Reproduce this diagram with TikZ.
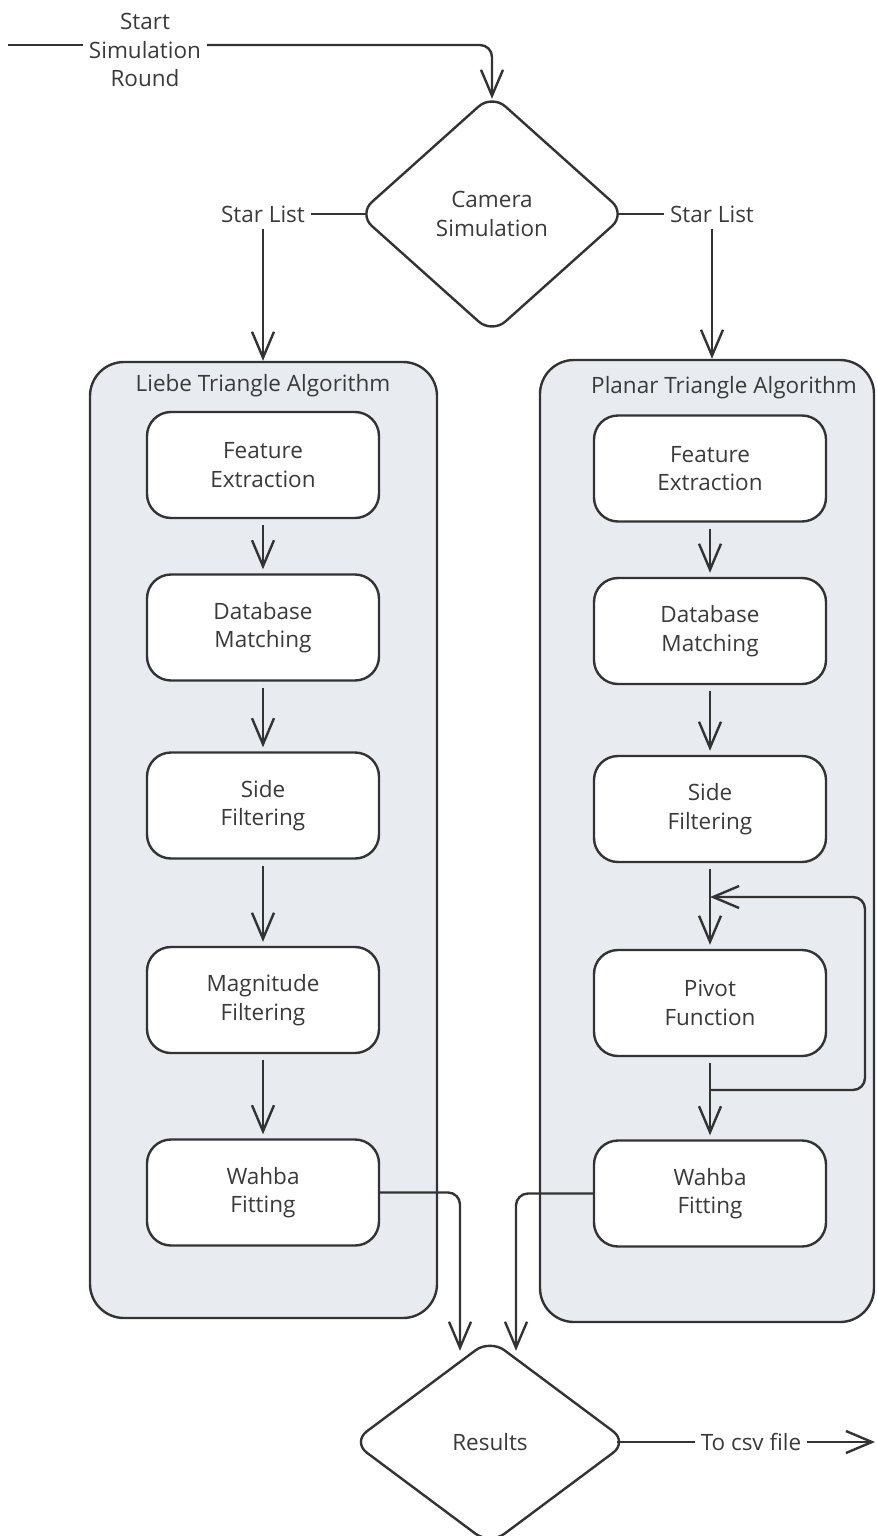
\documentclass[tikz,border=0pt]{standalone}
\usepackage{fontspec}
\setmainfont{Open Sans}
\usetikzlibrary{shapes.geometric}
\usetikzlibrary{arrows.meta}
\definecolor{inkgray}{HTML}{333333}
\definecolor{txtgray}{HTML}{3A3A3A}
\definecolor{panelgray}{HTML}{E8EBEF}

\begin{document}
\begin{tikzpicture}[x=1pt,y=-1pt,color=inkgray,line width=2.4pt,
  font=\fontsize{22.5}{28.5}\selectfont,
  procbox/.style={draw, fill=white, rounded corners=24pt, minimum width=232pt, minimum height=106pt, align=center, text=txtgray},
  decision/.style={diamond, draw, fill=white, rounded corners=18pt, align=center, inner sep=0pt, text=txtgray},
  panel/.style={draw, fill=panelgray, rounded corners=34pt},
  plain/.style={align=center, inner sep=5pt, text=txtgray},
  flow/.style={-{Straight Barb[length=26pt,width=22pt]}}]

\useasboundingbox (0,0) rectangle (876,1536);

\coordinate (in) at (8,45);
\node[plain] (start) at (145,50) {Start\\Simulation\\Round};
\node[decision, minimum width=268pt, minimum height=240pt] (cam) at (492,214) {Camera\\Simulation};
\node[plain] (starL) at (263,214) {Star List};
\node[plain] (starR) at (712,214) {Star List};

\node[panel, minimum width=347pt, minimum height=956pt] (liebe) at (263.5,840) {};
\node[panel, minimum width=334pt, minimum height=962pt] (planar) at (707,841) {};
\node[plain] (liebeT) at (263,386) {Liebe Triangle Algorithm};
\node[plain] (planarT) at (724,388) {Planar Triangle Algorithm};

\node[procbox] (fe1) at (263,465) {Feature\\Extraction};
\node[procbox] (dm1) at (263,627.5) {Database\\Matching};
\node[procbox] (sf1) at (263,805.5) {Side\\Filtering};
\node[procbox] (mf1) at (263,1000) {Magnitude\\Filtering};
\node[procbox] (wb1) at (263,1192.5) {Wahba\\Fitting};

\node[procbox] (fe2) at (710,468.5) {Feature\\Extraction};
\node[procbox] (dm2) at (710,631) {Database\\Matching};
\node[procbox] (sf2) at (710,809) {Side\\Filtering};
\node[procbox] (pv2) at (710,1003) {Pivot\\Function};
\node[procbox] (wb2) at (710,1193.5) {Wahba\\Fitting};

\coordinate (join) at (710,897);
\coordinate (split) at (710,1090);

\node[decision, minimum width=276pt, minimum height=206pt] (res) at (490,1442) {Results};
\node[plain] (csv) at (751,1442) {To csv file};
\coordinate (out) at (875,1442);

\draw (in) -- (in -| start.west);
\draw[flow, rounded corners=12pt, shorten >=-6pt] (start.east |- in) -| (cam.north);
\draw[shorten <=-9pt] (cam.west) -- (starL.east);
\draw[shorten <=-9pt] (cam.east) -- (starR.west);
\draw[flow] (starL.south) -- (starL.south |- liebe.north);
\draw[flow] (starR.south) -- (starR.south |- planar.north);

\draw[flow, shorten <=6pt, shorten >=4pt] (fe1) -- (dm1);
\draw[flow, shorten <=6pt, shorten >=4pt] (dm1) -- (sf1);
\draw[flow, shorten <=6pt, shorten >=4pt] (sf1) -- (mf1);
\draw[flow, shorten <=6pt, shorten >=4pt] (mf1) -- (wb1);

\draw[flow, shorten <=6pt, shorten >=4pt] (fe2) -- (dm2);
\draw[flow, shorten <=6pt, shorten >=4pt] (dm2) -- (sf2);
\draw[flow, shorten <=6pt, shorten >=4pt] (sf2) -- (pv2);
\draw[flow, shorten <=6pt, shorten >=4pt] (pv2) -- (wb2);
\draw[flow, rounded corners=12pt] (split) -- ++(155,0) |- (join);

\draw[flow, rounded corners=12pt] (wb1.east) -| ([xshift=-30pt,yshift=-13pt]res.north);
\draw[flow, rounded corners=12pt] (wb2.west) -| ([xshift=26pt,yshift=-13pt]res.north);
\draw[shorten <=-12pt] (res.east) -- (csv.west);
\draw[flow] (csv.east) -- (out);

\end{tikzpicture}
\end{document}
